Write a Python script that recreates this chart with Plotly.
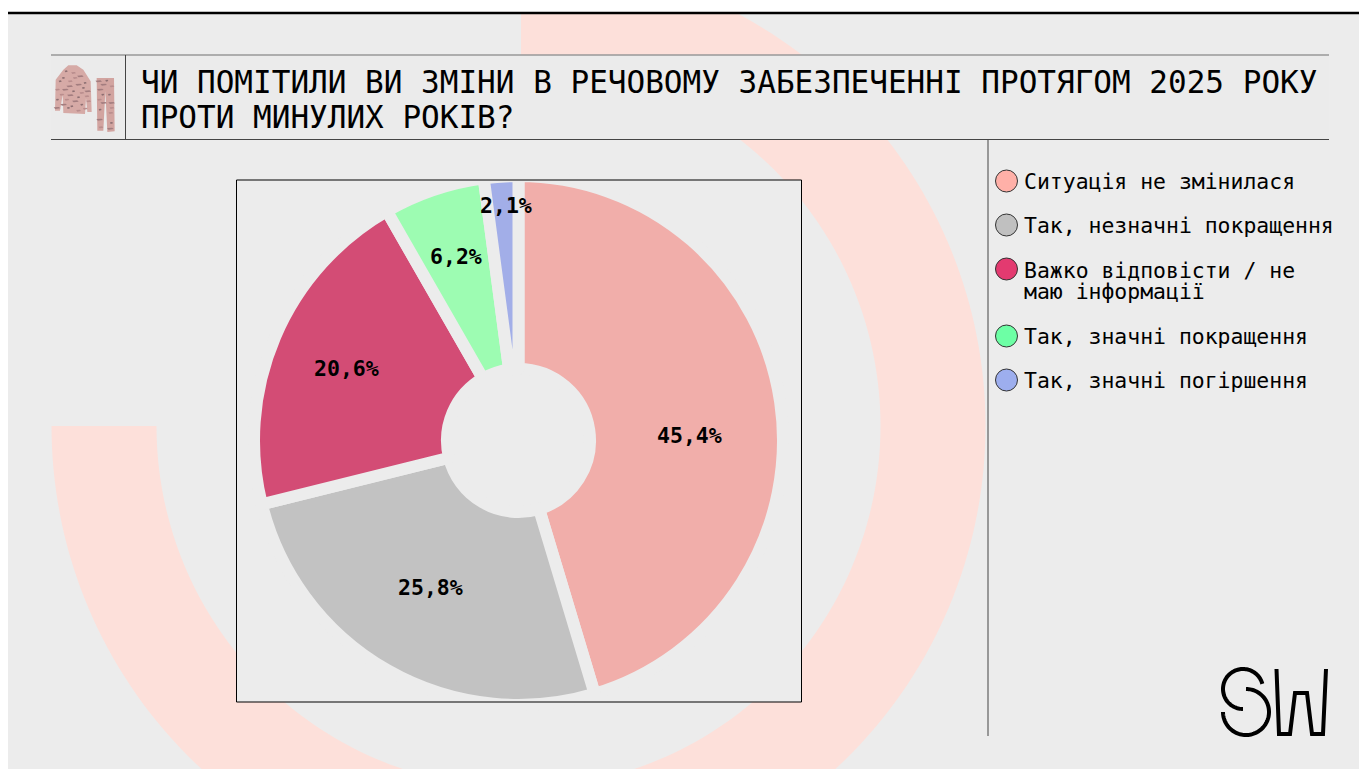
import numpy as np
import plotly.graph_objects as go

W, H = 1359, 769
categories = ["Ситуація не змінилася", "Так, незначні покращення", "Важко відповісти / не маю інформації",
              "Так, значні покращення", "Так, значні погіршення"]
values = [45.4, 25.8, 20.6, 6.2, 2.1]
slice_colors = ["#f1aeaa", "#c2c2c2", "#d34c75", "#9dfcb2", "#a2aee8"]
legend_colors = ["#ffb0a8", "#c0c0c0", "#e33a70", "#6dffa5", "#9daeee"]
legend_lines = [["Ситуація не змінилася"], ["Так, незначні покращення"], ["Важко відповісти / не", "маю інформації"],
                ["Так, значні покращення"], ["Так, значні погіршення"]]
legend_y = [181, 225, 269, 336, 380]
title_lines = ["ЧИ ПОМІТИЛИ ВИ ЗМІНИ В РЕЧОВОМУ ЗАБЕЗПЕЧЕННІ ПРОТЯГОМ 2025 РОКУ", "ПРОТИ МИНУЛИХ РОКІВ?"]
label_pos = [(689, 435), (431, 587), (346, 369), (456, 256), (506, 205)]

BG = "#ececec"
MONO = "DejaVu Sans Mono"


def px(x):
    return x / W


def py(y):
    return 1 - y / H


def path(points, close=False):
    s = "M " + " L ".join(f"{px(x):.5f},{py(y):.5f}" for x, y in points)
    return s + (" Z" if close else "")


def arc(cx, cy, r, a0, a1, n=80):
    a = np.radians(np.linspace(a0, a1, n))
    return [(cx + r * np.sin(t), cy - r * np.cos(t)) for t in a]


shapes = []


def rect(x0, y0, x1, y1, fill=None, line=None, lw=1, layer="below"):
    shapes.append(dict(type="rect", xref="paper", yref="paper", x0=px(x0), x1=px(x1), y0=py(y0), y1=py(y1),
                       fillcolor=fill, line=dict(color=line, width=lw if line else 0), layer=layer))


def hline(x0, x1, y, color, lw=1, layer="below"):
    shapes.append(dict(type="line", xref="paper", yref="paper", x0=px(x0), x1=px(x1), y0=py(y), y1=py(y),
                       line=dict(color=color, width=lw), layer=layer))


def vline(x, y0, y1, color, lw=1, layer="below"):
    shapes.append(dict(type="line", xref="paper", yref="paper", x0=px(x), x1=px(x), y0=py(y0), y1=py(y1),
                       line=dict(color=color, width=lw), layer=layer))


def poly(points, fill=None, line=None, lw=1, close=True, layer="below"):
    shapes.append(dict(type="path", xref="paper", yref="paper", path=path(points, close),
                       fillcolor=fill, line=dict(color=line, width=lw if line else 0), layer=layer))


# page
rect(8, 14, W, H, fill=BG)
# decorative ring
ring_c = (518.5, 426)
poly(arc(*ring_c, 467, 0.3, 270, 200) + arc(*ring_c, 362, 270, 0.4, 200), fill="#fde0da")
# mask above the page panel, then the top bar
rect(0, 0, W, 13, fill="#ffffff")
hline(8, W, 13, "#000000", 2.5)
# title band
rect(51, 55, 1329, 139, fill="#ebebeb")
hline(51, 1329, 55, "#999999", 1.5)
hline(51, 1329, 139.5, "#444444", 1)
vline(125.5, 55, 139, "#444444", 1)
vline(988, 139, 736, "#444444", 1)
# chart box
rect(236.5, 180, 801.5, 702, fill=BG)
rect(236.5, 180, 801.5, 702, line="#000000", lw=1, layer="above")


def ic(pts):
    return [(50 + x / 3, 58 + y / 3) for x, y in pts]


# uniform icon
poly(ic([(55, 22), (80, 22), (100, 35), (122, 70), (125, 162), (112, 162), (108, 120), (105, 168), (40, 165),
         (38, 110), (30, 158), (15, 158), (17, 65), (40, 35)]), fill="#d6aaa6")
poly(ic([(140, 60), (192, 60), (194, 220), (172, 222), (166, 100), (160, 218), (142, 218)]), fill="#d2a4a0")
camo = [(48, 40), (70, 45), (90, 55), (30, 70), (60, 70), (85, 80), (105, 75), (22, 95), (45, 95), (70, 100),
        (95, 105), (112, 100), (22, 125), (50, 125), (75, 130), (95, 140), (115, 130), (20, 150), (55, 150), (85, 158),
        (145, 70), (170, 68), (185, 85), (150, 95), (178, 110), (148, 125), (184, 135), (150, 155), (182, 165),
        (148, 185), (184, 195), (152, 208), (180, 212), (40, 60), (75, 60), (58, 85), (100, 90), (35, 110), (60, 112),
        (85, 118), (110, 115), (40, 140), (65, 145), (105, 152), (160, 80), (158, 110), (185, 150), (160, 135)]
tones = ["#8d6f72", "#b98d8d", "#a37d7f"]
for i, (x, y) in enumerate(camo):
    s = 1 + 0.6 * (i % 3)
    poly(ic([(x - 4 * s, y - 2), (x + 3 * s, y - 3), (x + 5 * s, y + 1), (x - 2 * s, y + 3)]), fill=tones[i % 3])

# SW logo
logo = dict(fill=None, line="#000000", lw=4, close=False)
poly(arc(1243, 689, 20, 75, -180), **logo)
poly(arc(1246, 712, 23, 0, 270), **logo)
poly([(1276.5, 669), (1279, 734), (1290, 734), (1295, 693), (1307, 693), (1312, 734), (1323, 734), (1326, 669)],
     **logo)

annotations = []
# title
for txt, y in zip(title_lines, [82, 117]):
    annotations.append(dict(text=txt, x=px(139), y=py(y), xref="paper", yref="paper", xanchor="left", yanchor="middle",
                            showarrow=False, font=dict(family=MONO, size=31.03, color="#000000")))
# legend
for color, lines, y in zip(legend_colors, legend_lines, legend_y):
    shapes.append(dict(type="circle", xref="paper", yref="paper", x0=px(995.5), x1=px(1017.5), y0=py(y - 11), y1=py(y + 11),
                       fillcolor=color, line=dict(color="#333333", width=1), layer="below"))
    for i, ln in enumerate(lines):
        oy = 1 if len(lines) > 1 and i == 0 else i * 22
        annotations.append(dict(text=ln, x=px(1021.5), y=py(y + oy), xref="paper", yref="paper", xanchor="left",
                                yanchor="middle", showarrow=False, font=dict(family=MONO, size=21.45, color="#000000")))

# slice labels
for v, (x, y) in zip(values, label_pos):
    annotations.append(dict(text=f"{v:.1f}%".replace(".", ","), x=px(x), y=py(y), xref="paper", yref="paper",
                            xanchor="center", yanchor="middle", showarrow=False,
                            font=dict(family=MONO, size=21.5, color="#000000", weight="bold")))

R = 264.5
cx, cy = 518.5, 440.5
fig = go.Figure(go.Pie(
    labels=categories, values=values, sort=False, direction="clockwise", rotation=0, hole=71.5 / R,
    marker=dict(colors=slice_colors, line=dict(color=BG, width=12)),
    textinfo="none",
    domain=dict(x=[px(cx - R), px(cx + R)], y=[py(cy + R), py(cy - R)]),
    showlegend=False, hoverinfo="label+value",
))
fig.update_layout(width=W, height=H, margin=dict(l=0, r=0, t=0, b=0), paper_bgcolor="#ffffff", separators=", ",
                  shapes=shapes, annotations=annotations, autosize=False)
fig.write_html("out.html", post_script="document.body.style.margin='0';document.body.style.overflow='hidden';",
               config={"displayModeBar": False})
